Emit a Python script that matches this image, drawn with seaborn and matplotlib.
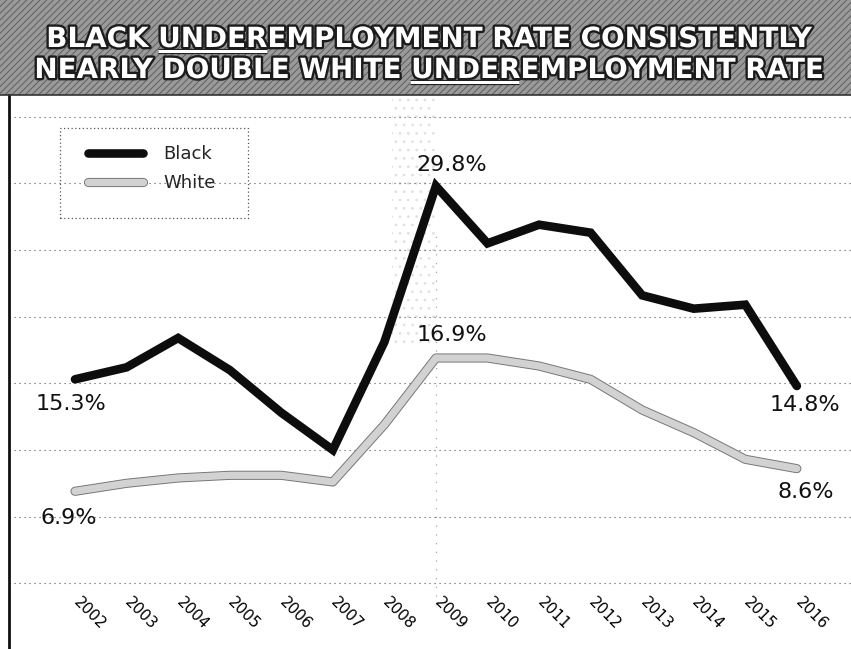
import matplotlib
matplotlib.use("Agg")
import matplotlib.pyplot as plt
import matplotlib.patheffects as pe
import matplotlib.transforms as mtransforms
from matplotlib.patches import Rectangle
from matplotlib.lines import Line2D
import pandas as pd
import seaborn as sns

# ---- data -------------------------------------------------------------
years = list(range(2002, 2017))
black_rate = [15.3, 16.2, 18.4, 16.0, 12.8, 10.0, 18.1, 29.8,
              25.5, 26.9, 26.3, 21.6, 20.6, 20.9, 14.8]
white_rate = [6.9, 7.5, 7.9, 8.1, 8.1, 7.6, 11.9, 16.9,
              16.9, 16.3, 15.3, 13.0, 11.3, 9.3, 8.6]
series_names = ["Black", "White"]
year_labels = [str(y) for y in years]
grid_values = [0, 5, 10, 15, 20, 25, 30, 35]
title_lines = ["BLACK UNDEREMPLOYMENT RATE CONSISTENTLY",
               "NEARLY DOUBLE WHITE UNDEREMPLOYMENT RATE"]
underlined_word = "UNDER"
# which points carry a value label, and where the label sits (points offset)
label_points = {
    "Black": [(2002, (-3, -18)), (2009, (11.5, 15)), (2016, (6, -14))],
    "White": [(2002, (-4.5, -19.5)), (2009, (11.5, 16.5)), (2016, (6.5, -16.5))],
}

df = pd.DataFrame({
    "year": years * 2,
    "rate": black_rate + white_rate,
    "group": [series_names[0]] * len(years) + [series_names[1]] * len(years),
})

# ---- figure -----------------------------------------------------------
W, H, DPI = 851, 649, 100
sns.set_theme(style="white")
plt.rcParams["font.family"] = ["DejaVu Sans"]
plt.rcParams["hatch.linewidth"] = 0.7

fig = plt.figure(figsize=(W / DPI, H / DPI), dpi=DPI)
fig.patch.set_facecolor("white")

BANNER = 95
ax = fig.add_axes([9 / W, 0, (W - 9) / W, (H - BANNER) / H])
ax.set_xlim(2000.72, 2017.05)
ax.set_ylim(-4.93, 36.63)

# recession-era stipple and the 2009 marker line
ax.axvspan(2008.15, 2009.0, ymin=0.55, ymax=1.0, facecolor="none",
           edgecolor="#e0e0e0", hatch="..", linewidth=0, zorder=0)
ax.axvline(2009, ymin=0.08, ymax=0.75, color="#a8a8a8",
           linestyle=(0, (1, 6)), linewidth=0.9, zorder=0)

# series
white_style = dict(color="#d2d2d2", linewidth=5.2, solid_capstyle="round",
                   solid_joinstyle="round",
                   path_effects=[pe.Stroke(linewidth=6.6, foreground="#777777"),
                                 pe.Normal()])
black_style = dict(color="#0d0d0d", linewidth=6.2, solid_capstyle="round",
                   solid_joinstyle="miter")

sns.lineplot(data=df[df["group"] == "White"], x="year", y="rate", ax=ax,
             legend=False, errorbar=None, zorder=3, **white_style)
sns.lineplot(data=df[df["group"] == "Black"], x="year", y="rate", ax=ax,
             legend=False, errorbar=None, zorder=4, **black_style)

# value labels
values = {"Black": dict(zip(years, black_rate)),
          "White": dict(zip(years, white_rate))}
for name, pts in label_points.items():
    for yr, off in pts:
        v = values[name][yr]
        ax.annotate(f"{v}%", xy=(yr, v), xytext=off, textcoords="offset points",
                    ha="center", va="center", fontsize=16, color="#111111",
                    zorder=6)

# axes styling
ax.set_yticks(grid_values)
ax.tick_params(axis="y", length=0, labelleft=False)
ax.grid(axis="y", linestyle=(0, (1, 3.5)), color="#555555", linewidth=0.8)
ax.grid(axis="x", visible=False)
ax.set_xlabel("")
ax.set_ylabel("")
for side in ("top", "right", "bottom"):
    ax.spines[side].set_visible(False)
ax.spines["left"].set_color("#111111")
ax.spines["left"].set_linewidth(2)

ax.set_xticks(years)
ax.set_xticklabels(year_labels, rotation=-45, ha="left", va="top",
                   rotation_mode="anchor", fontsize=11, color="#000000")
ax.tick_params(axis="x", length=0, pad=-39)
shift = mtransforms.ScaledTranslation(6 / DPI, 0, fig.dpi_scale_trans)
for lab in ax.get_xticklabels():
    lab.set_transform(lab.get_transform() + shift)

# legend with a dotted frame
handles = [Line2D([], [], **black_style), Line2D([], [], **white_style)]
ax.legend(handles, series_names, loc="upper left",
          bbox_to_anchor=(88 / W, 1 - 145 / H), bbox_transform=fig.transFigure,
          frameon=False, borderpad=0, borderaxespad=0, fontsize=13,
          handlelength=3.05, handletextpad=1.1, labelspacing=0.62)
fig.add_artist(Rectangle((60 / W, 1 - 218 / H), 188 / W, 90 / H,
                         transform=fig.transFigure, fill=False,
                         edgecolor="#555555", linewidth=0.9,
                         linestyle=(0, (1, 2))))

# title banner
fig.add_artist(Rectangle((0, 1 - BANNER / H), 1, BANNER / H,
                         transform=fig.transFigure, facecolor="#9a9a9a",
                         edgecolor="#5e5e5e", hatch="/////", linewidth=0,
                         zorder=0))
fig.add_artist(Line2D([0, 1], [1 - BANNER / H] * 2, transform=fig.transFigure,
                      color="#333333", linewidth=1.2))

title_kw = dict(fontsize=20, fontweight="bold", color="white",
                ha="left", va="baseline",
                path_effects=[pe.withStroke(linewidth=3.4, foreground="#1c1c1c")])
baselines = [47, 78]
center_x = 428
renderer = fig.canvas.get_renderer()
for line, base in zip(title_lines, baselines):
    t = fig.text(0, 1 - base / H, line, **title_kw)
    fp = t.get_fontproperties()
    w_line, _, _ = renderer.get_text_width_height_descent(line, fp, ismath=False)
    x0 = center_x - w_line / 2
    t.set_x(x0 / W)
    idx = line.index(underlined_word)
    w_full, _, _ = renderer.get_text_width_height_descent(
        line[:idx + len(underlined_word)], fp, ismath=False)
    w_word, _, _ = renderer.get_text_width_height_descent(
        underlined_word, fp, ismath=False)
    xs = x0 + w_full - w_word
    xe = x0 + w_full
    uy = 1 - (base + 4) / H
    fig.add_artist(Line2D([xs / W, xe / W], [uy, uy], transform=fig.transFigure,
                          color="white", linewidth=2.2, solid_capstyle="butt",
                          path_effects=[pe.withStroke(linewidth=3.8,
                                                      foreground="#1c1c1c")]))

fig.savefig("out.png", dpi=DPI)
